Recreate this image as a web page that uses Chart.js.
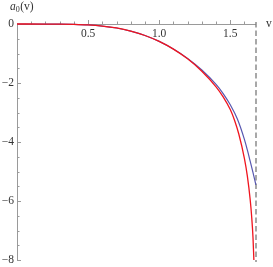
<!DOCTYPE html>
<html>
<head>
<meta charset="utf-8">
<script src="https://cdn.jsdelivr.net/npm/chart.js@4"></script>
<style>
  html, body { margin: 0; padding: 0; background: #fff; }
  #wrap { width: 273px; height: 267px; }
</style>
</head>
<body>
<div id="wrap"><canvas id="chart" width="273" height="267"></canvas></div>
<script>
// values
const redV = [0, 0.2, 0.3, 0.4, 0.5, 0.6, 0.7, 0.8, 0.9, 1.0, 1.1, 1.2, 1.3, 1.4, 1.45, 1.5, 1.53, 1.56, 1.6, 1.62, 1.64, 1.65, 1.66, 1.666];
const redA = [0, -0.001, -0.004, -0.013, -0.032, -0.07, -0.135, -0.24, -0.39, -0.59, -0.85, -1.18, -1.6, -2.13, -2.47, -2.9, -3.26, -3.73, -4.57, -5.15, -5.95, -6.5, -7.25, -8.0];
const blueV = [0, 0.2, 0.3, 0.4, 0.5, 0.6, 0.7, 0.8, 0.9, 1.0, 1.1, 1.2, 1.3, 1.4, 1.45, 1.5, 1.55, 1.6, 1.62, 1.64, 1.66, 1.68];
const blueA = [0, -0.001, -0.004, -0.013, -0.032, -0.07, -0.135, -0.24, -0.39, -0.59, -0.85, -1.17, -1.56, -2.05, -2.36, -2.74, -3.22, -3.92, -4.27, -4.65, -5.04, -5.45];
const vLimit = 1.681;

const xMajor = [0.5, 1.0, 1.5];
const xLabels = ['0.5', '1.0', '1.5'];
const xMinor = [0.1, 0.2, 0.3, 0.4, 0.6, 0.7, 0.8, 0.9, 1.1, 1.2, 1.3, 1.4, 1.6];
const yMajor = [0, -2, -4, -6, -8];
const yLabels = ['0', '\u22122', '\u22124', '\u22126', '\u22128'];
const yMinor = [-0.5, -1, -1.5, -2.5, -3, -3.5, -4.5, -5, -5.5, -6.5, -7, -7.5];

const toPoints = (xs, ys) => xs.map((x, i) => ({ x: x, y: ys[i] }));

const axisColor = '#9a9a9a';
const textColor = '#333';
const serif = '"Times New Roman", "Liberation Serif", serif';

const axesPlugin = {
  id: 'mmaAxes',
  beforeDatasetsDraw(chart) {
    const ctx = chart.ctx;
    const xs = chart.scales.x;
    const ys = chart.scales.y;
    const x0 = xs.getPixelForValue(0);
    const y0 = ys.getPixelForValue(0);
    const xEnd = xs.getPixelForValue(vLimit);
    const yEnd = ys.getPixelForValue(-8);

    ctx.save();
    ctx.strokeStyle = axisColor;
    ctx.lineWidth = 1;

    // axes lines
    ctx.beginPath();
    ctx.moveTo(x0, y0 + 0.5);
    ctx.lineTo(xEnd, y0 + 0.5);
    ctx.moveTo(x0 + 0.5, y0);
    ctx.lineTo(x0 + 0.5, yEnd);
    ctx.stroke();

    // x ticks (pointing up)
    ctx.beginPath();
    xMajor.forEach(v => {
      const px = Math.round(xs.getPixelForValue(v)) + 0.5;
      ctx.moveTo(px, y0);
      ctx.lineTo(px, y0 - 4);
    });
    xMinor.forEach(v => {
      const px = Math.round(xs.getPixelForValue(v)) + 0.5;
      ctx.moveTo(px, y0);
      ctx.lineTo(px, y0 - 2.5);
    });
    // y ticks (pointing right)
    yMajor.forEach(v => {
      const py = Math.round(ys.getPixelForValue(v)) + 0.5;
      ctx.moveTo(x0, py);
      ctx.lineTo(x0 + 4, py);
    });
    yMinor.forEach(v => {
      const py = Math.round(ys.getPixelForValue(v)) + 0.5;
      ctx.moveTo(x0, py);
      ctx.lineTo(x0 + 2.5, py);
    });
    ctx.stroke();

    // dashed asymptote
    ctx.strokeStyle = '#7a7a7a';
    ctx.lineWidth = 1.3;
    ctx.setLineDash([5.5, 3]);
    ctx.beginPath();
    ctx.moveTo(xEnd, y0 - 2);
    ctx.lineTo(xEnd, yEnd + 2);
    ctx.stroke();
    ctx.setLineDash([]);

    // tick labels
    ctx.fillStyle = textColor;
    ctx.font = '11.5px ' + serif;
    ctx.textAlign = 'center';
    ctx.textBaseline = 'middle';
    xMajor.forEach((v, i) => {
      ctx.fillText(xLabels[i], xs.getPixelForValue(v), y0 + 10);
    });
    ctx.textAlign = 'right';
    yMajor.forEach((v, i) => {
      ctx.fillText(yLabels[i], x0 - 3, ys.getPixelForValue(v));
    });

    // axis names
    ctx.textAlign = 'left';
    ctx.fillText('v', xEnd + 10, y0);
    ctx.font = 'italic 11.5px ' + serif;
    ctx.fillText('a', 10, 7);
    const aw = ctx.measureText('a').width;
    ctx.font = '8px ' + serif;
    ctx.fillText('0', 10 + aw, 10);
    const zw = ctx.measureText('0').width;
    ctx.font = '11.5px ' + serif;
    ctx.fillText('(v)', 10 + aw + zw + 0.5, 7);
    ctx.restore();
  }
};

new Chart(document.getElementById('chart'), {
  type: 'scatter',
  data: {
    datasets: [
      {
        label: 'red',
        data: toPoints(redV, redA),
        showLine: true,
        borderColor: '#f0141e',
        borderWidth: 1.3,
        pointRadius: 0,
        cubicInterpolationMode: 'monotone',
      },
      {
        label: 'blue',
        data: toPoints(blueV, blueA),
        showLine: true,
        borderColor: '#5757b0',
        borderWidth: 1.2,
        pointRadius: 0,
        cubicInterpolationMode: 'monotone',
      }
    ]
  },
  options: {
    responsive: false,
    animation: false,
    layout: { padding: { left: 17, right: 17, top: 24, bottom: 7 } },
    scales: {
      x: { type: 'linear', min: 0, max: vLimit, display: false },
      y: { type: 'linear', min: -8, max: 0, display: false }
    },
    plugins: {
      legend: { display: false },
      tooltip: { enabled: false }
    },
    clip: false
  },
  plugins: [axesPlugin]
});
</script>
</body>
</html>
